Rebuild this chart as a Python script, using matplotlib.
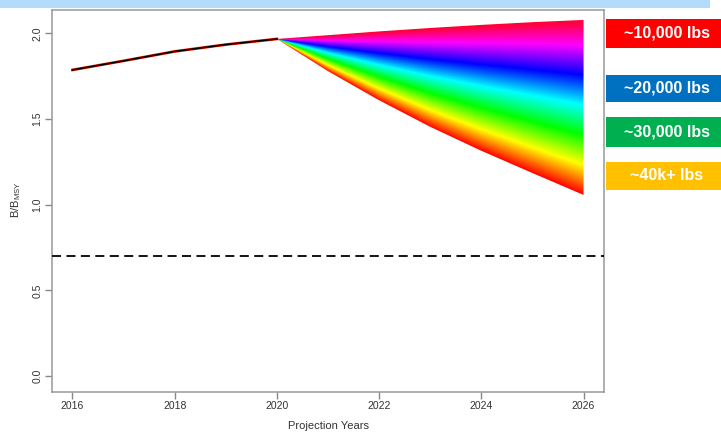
import numpy as np
import matplotlib.pyplot as plt
from matplotlib.colors import hsv_to_rgb
from matplotlib.patches import Rectangle, Polygon

plt.rcParams['font.family'] = ['Liberation Sans', 'DejaVu Sans']
plt.rcParams['mathtext.default'] = 'regular'

# biomass ratio, fitted years
hist_years = [2016, 2017, 2018, 2019, 2020]
hist_ratio = [1.787, 1.84, 1.895, 1.935, 1.968]

# projection fan: lowest catch run (top edge) and highest catch run (bottom edge)
proj_years = [2020, 2021, 2022, 2023, 2024, 2025, 2026]
proj_low_catch = [1.968, 1.99, 2.012, 2.032, 2.050, 2.066, 2.079]
proj_high_catch = [1.968, 1.78, 1.61, 1.455, 1.315, 1.185, 1.057]

threshold = 0.7

catch_labels = ['~10,000 lbs', '~20,000 lbs', '~30,000 lbs', '~40k+ lbs']
catch_colors = ['#ff0000', '#0070c0', '#00b050', '#ffc000']
box_rows = [(18.5, 48.0), (75.0, 101.7), (117.3, 146.7), (161.7, 190.0)]  # pixel rows

W, H = 721, 432
fig = plt.figure(figsize=(W / 100, H / 100), dpi=100)
ax = fig.add_axes([52 / W, 1 - 391.7 / H, (604 - 52) / W, (391.7 - 10) / H])

# rainbow fan (R rainbow(): red at highest catch -> magenta/red at lowest)
gx = np.linspace(proj_years[0], proj_years[-1], 700)
gy = np.linspace(1.0, 2.12, 700)
X, Y = np.meshgrid(gx, gy)
top = np.interp(X, proj_years, proj_low_catch)
bot = np.interp(X, proj_years, proj_high_catch)
den = top - bot
f = np.where(den > 1e-9, (Y - bot) / np.where(den > 1e-9, den, 1), 0.5)
f = np.clip(f, 0, 1)
hsv = np.dstack([f * 0.97, np.ones_like(f), np.ones_like(f)])
rgb = hsv_to_rgb(hsv)
im = ax.imshow(rgb, origin='lower', aspect='auto', interpolation='bilinear',
               extent=[gx[0], gx[-1], gy[0], gy[-1]], zorder=2)
verts = list(zip(proj_years, proj_low_catch)) + list(zip(proj_years[::-1], proj_high_catch[::-1]))
fan = Polygon(verts, closed=True, facecolor='none', edgecolor='none')
ax.add_patch(fan)
im.set_clip_path(fan)

ax.plot(hist_years, hist_ratio, color='#ff2000', lw=2.0, zorder=3)
ax.plot(hist_years, hist_ratio, color='black', lw=1.2, zorder=4)

ax.axhline(threshold, color='black', lw=1.3, ls=(0, (5, 3)), zorder=3)

ax.set_xlim(2015.6, 2026.4)
ax.set_ylim(-0.092, 2.137)
ax.set_xticks([2016, 2018, 2020, 2022, 2024, 2026])
ax.set_yticks([0.0, 0.5, 1.0, 1.5, 2.0])
ax.set_yticklabels(['0.0', '0.5', '1.0', '1.5', '2.0'], rotation=90, va='center')
ax.tick_params(axis='both', length=5, width=1, color='#888888', labelsize=7.5,
               labelcolor='#333333', pad=2)
for s in ax.spines.values():
    s.set_color('#999999')
    s.set_linewidth(1.1)

fig.text(16 / W, 1 - 200 / H, 'B/B$_{MSY}$', rotation=90, ha='center', va='center',
         fontsize=8, color='#333333')
fig.text(328 / W, 1 - 426 / H, 'Projection Years', ha='center', va='center',
         fontsize=8, color='#333333')

# slide decoration and catch labels
fig.add_artist(Rectangle((0, 1 - 7.5 / H), 710 / W, 7.5 / H, transform=fig.transFigure,
                         facecolor='#b4dafc', edgecolor='none'))
for lab, col, (y0, y1) in zip(catch_labels, catch_colors, box_rows):
    fig.add_artist(Rectangle((606 / W, 1 - y1 / H), (W - 606) / W, (y1 - y0) / H,
                             transform=fig.transFigure, facecolor=col, edgecolor='none'))
    fig.text(667 / W, 1 - (y0 + y1) / 2 / H, lab, ha='center', va='center',
             fontsize=11.5, fontweight='bold', color='white')

fig.savefig('out.png', dpi=100)
